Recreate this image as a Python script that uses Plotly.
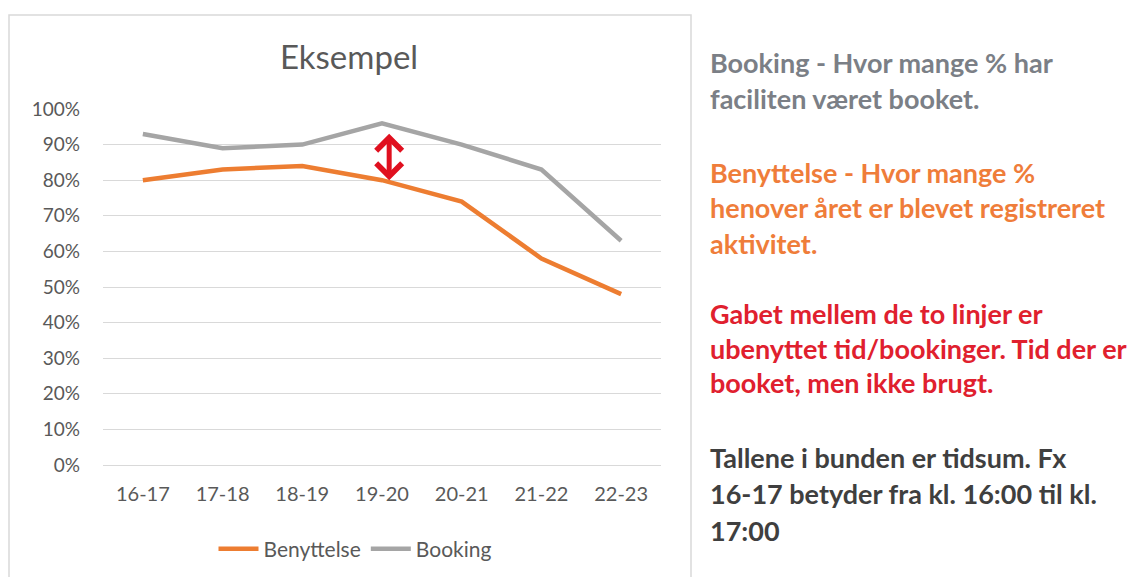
import plotly.graph_objects as go

categories = ["16-17", "17-18", "18-19", "19-20", "20-21", "21-22", "22-23"]
benyttelse = [0.80, 0.83, 0.84, 0.80, 0.74, 0.58, 0.48]
booking = [0.93, 0.89, 0.90, 0.96, 0.90, 0.83, 0.63]

title_text = "Eksempel"
notes = [
    ("Booking - Hvor mange % har", "#7b7f86", 63),
    ("faciliten været booket.", "#7b7f86", 98),
    ("Benyttelse - Hvor mange %", "#ef7d3a", 172),
    ("henover året er blevet registreret", "#ef7d3a", 207),
    ("aktivitet.", "#ef7d3a", 243),
    ("Gabet mellem de to linjer er", "#e0202e", 313),
    ("ubenyttet tid/bookinger. Tid der er", "#e0202e", 348),
    ("booket, men ikke brugt.", "#e0202e", 382),
    ("Tallene i bunden er tidsum. Fx", "#3f3f3f", 457),
    ("16-17 betyder fra kl. 16:00 til kl.", "#3f3f3f", 493),
    ("17:00", "#3f3f3f", 530),
]
# gap arrow (between the two lines at 19-20)
gap_x = 3.09
gap_top = 0.935
gap_bottom = 0.80

W, H = 1146, 577
OFF = 8  # page body margin
FONT = "Lato"


def px(xp):
    return (xp - OFF) / W


def py(yp):
    return 1 - (yp - OFF) / H


fig = go.Figure()
fig.add_trace(go.Scatter(x=categories, y=benyttelse, name="Benyttelse", mode="lines",
                         line=dict(color="#ED7D31", width=4.5)))
fig.add_trace(go.Scatter(x=categories, y=booking, name="Booking", mode="lines",
                         line=dict(color="#A5A5A5", width=4.5)))

fig.update_layout(
    width=W, height=H,
    margin=dict(l=0, r=0, t=0, b=0, pad=0),
    paper_bgcolor="white", plot_bgcolor="white",
    font=dict(family=FONT, color="#595959", size=19),
    title=dict(text=title_text, x=px(349), y=py(57), xanchor="center", yanchor="middle",
               font=dict(family=FONT, size=33, color="#595959"), automargin=False),
    xaxis=dict(domain=[px(103), px(661)], range=[-0.5, 6.5], showgrid=False, zeroline=False,
               showline=False, ticks="", tickfont=dict(size=20, color="#595959"),
               ticklabelstandoff=15, automargin=False),
    yaxis=dict(domain=[py(465), py(109)], range=[0, 1.0], dtick=0.1, tickformat=".0%",
               gridcolor="#d9d9d9", gridwidth=1, zeroline=True, zerolinecolor="#d9d9d9",
               zerolinewidth=1, showline=False, ticks="", tickfont=dict(size=19, color="#595959"),
               ticklabelstandoff=22, automargin=False),
    legend=dict(orientation="h", x=px(355), y=py(549), xanchor="center", yanchor="middle",
                font=dict(size=21, color="#595959"), bgcolor="rgba(0,0,0,0)", itemwidth=40),
    showlegend=True,
)

# chart box border
fig.add_shape(type="rect", xref="paper", yref="paper", x0=px(9), x1=px(691), y0=-0.05, y1=py(15),
              line=dict(color="#d9d9d9", width=1.5), fillcolor="rgba(0,0,0,0)", layer="below")

fig.add_annotation(x=gap_x, y=gap_bottom, ax=gap_x, ay=gap_top, xref="x", yref="y", axref="x", ayref="y",
                   text="", showarrow=True, arrowhead=4, startarrowhead=4, arrowside="end+start",
                   arrowwidth=5, arrowsize=1, startarrowsize=1, arrowcolor="#e0101f",
                   standoff=0, startstandoff=0)

for text, color, ypx in notes:
    fig.add_annotation(x=px(708), y=py(ypx), xref="paper", yref="paper", xanchor="left", yanchor="middle",
                       text="<b>" + text + "</b>", showarrow=False,
                       font=dict(family=FONT, size=27, color=color))

fig.write_html("out.html")
